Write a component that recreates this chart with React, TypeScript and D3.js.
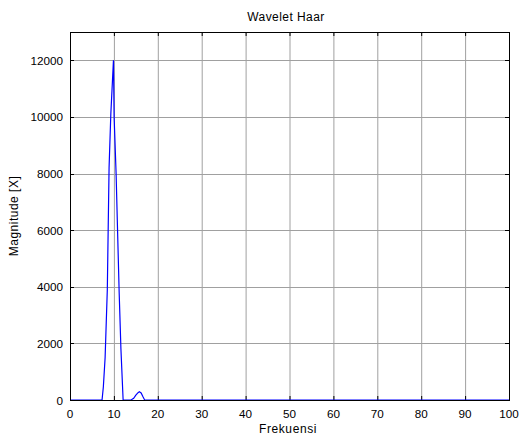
import React from "react";
import * as d3 from "d3";

const title = "Wavelet Haar";
const xLabel = "Frekuensi";
const yLabel = "Magnitude [X]";
const xTicks = [0, 10, 20, 30, 40, 50, 60, 70, 80, 90, 100];
const yTicks = [0, 2000, 4000, 6000, 8000, 10000, 12000];
const freq = [0, 7.3, 7.6, 8, 8.5, 8.9, 9.3, 9.9, 10.05, 10.5, 11.2, 11.6, 12.1, 13.9, 14.5, 15, 15.5, 15.8, 16.2, 16.6, 17, 100];
const magnitude = [0, 0, 470, 1500, 3900, 8200, 10100, 12000, 10000, 8000, 3800, 1800, 0, 0, 60, 170, 260, 290, 250, 120, 0, 0];

export default function App() {
  const W = 519, H = 438;
  const L = 70, R = 509, T = 32, B = 400;
  const x = d3.scaleLinear().domain([0, 100]).range([L, R]);
  const y = d3.scaleLinear().domain([0, 13000]).range([B, T]);
  const pts: [number, number][] = freq.map((f, i) => [f, magnitude[i]]);
  const line = d3.line<[number, number]>().x(d => x(d[0])).y(d => y(d[1]));
  const font = "'Liberation Sans', Arial, sans-serif";
  return (
    <svg width={W} height={H} style={{ position: "absolute", left: 0, top: 0, background: "#fff" }} fontFamily={font}>
      <rect x={0} y={0} width={W} height={H} fill="#fff" />
      {xTicks.slice(1, -1).map(t => (
        <line key={"gx" + t} x1={x(t) + 0.5} x2={x(t) + 0.5} y1={T} y2={B} stroke="#a0a0a0" strokeWidth={1} />
      ))}
      {yTicks.slice(1).map(t => (
        <line key={"gy" + t} x1={L} x2={R} y1={Math.round(y(t)) + 0.5} y2={Math.round(y(t)) + 0.5} stroke="#a0a0a0" strokeWidth={1} />
      ))}
      {xTicks.map(t => (
        <g key={"tx" + t}>
          <line x1={x(t) + 0.5} x2={x(t) + 0.5} y1={B} y2={B - 4} stroke="#000" />
          <line x1={x(t) + 0.5} x2={x(t) + 0.5} y1={T} y2={T + 4} stroke="#000" />
          <text x={x(t)} y={B + 18} fontSize={11.7} textAnchor="middle" fill="#000">{t}</text>
        </g>
      ))}
      {yTicks.map(t => (
        <g key={"ty" + t}>
          <line x1={L} x2={L + 4} y1={Math.round(y(t)) + 0.5} y2={Math.round(y(t)) + 0.5} stroke="#000" />
          <line x1={R} x2={R - 4} y1={Math.round(y(t)) + 0.5} y2={Math.round(y(t)) + 0.5} stroke="#000" />
          <text x={L - 7} y={y(t) + 4.5} fontSize={11.7} textAnchor="end" fill="#000">{t}</text>
        </g>
      ))}
      <path d={line(pts) || ""} fill="none" stroke="#0000ff" strokeWidth={1.2} />
      <rect x={L + 0.5} y={T + 0.5} width={R - L} height={B - T} fill="none" stroke="#000" strokeWidth={1} />
      <text x={286} y={20.5} fontSize={12} letterSpacing={0.45} textAnchor="middle" fill="#000">{title}</text>
      <text x={288} y={433} fontSize={12} letterSpacing={0.6} textAnchor="middle" fill="#000">{xLabel}</text>
      <text transform={`translate(18,${(T + B) / 2}) rotate(-90)`} fontSize={12} letterSpacing={0.5} textAnchor="middle" fill="#000">{yLabel}</text>
    </svg>
  );
}
